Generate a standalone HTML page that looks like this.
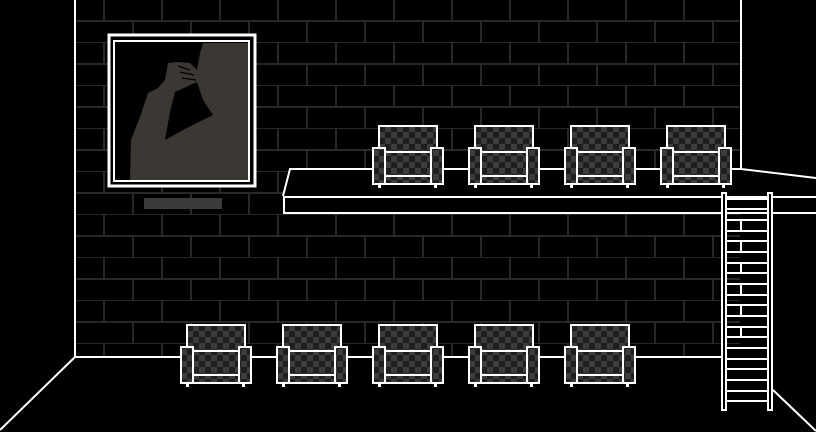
<!DOCTYPE html>
<html><head><style>html,body{margin:0;padding:0;background:#000;}svg{display:block}</style></head>
<body>
<svg width="816" height="432" viewBox="0 0 816 432" xmlns="http://www.w3.org/2000/svg" shape-rendering="crispEdges">
<defs>
<pattern id="brick" x="74" y="0" width="58" height="43" patternUnits="userSpaceOnUse">
<rect width="58" height="43" fill="#000"/>
<rect x="0" y="20" width="58" height="2" fill="#282828"/>
<rect x="0" y="42" width="58" height="1.5" fill="#282828"/>
<rect x="29" y="0" width="2" height="20" fill="#282828"/>
<rect x="0" y="22" width="2" height="20" fill="#282828"/>
</pattern>
<pattern id="chk" x="0" y="0" width="12" height="12" patternUnits="userSpaceOnUse">
<rect width="12" height="12" fill="#1e1e1e"/>
<rect width="6" height="6" fill="#3c3c3c"/>
<rect x="6" y="6" width="6" height="6" fill="#3c3c3c"/>
</pattern>
<g id="chair">
<rect x="6" y="0" width="58" height="26" fill="url(#chk)" stroke="#fff" stroke-width="2"/>
<rect x="12" y="26" width="46" height="32" fill="url(#chk)" stroke="#fff" stroke-width="2"/>
<line x1="12" y1="50" x2="58" y2="50" stroke="#fff" stroke-width="2"/>
<rect x="0" y="22" width="12" height="36" fill="url(#chk)" stroke="#fff" stroke-width="2"/>
<rect x="58" y="22" width="12" height="36" fill="url(#chk)" stroke="#fff" stroke-width="2"/>
<rect x="5" y="58" width="3" height="4" fill="#fff"/>
<rect x="61" y="58" width="3" height="4" fill="#fff"/>
</g>
</defs>
<rect width="816" height="432" fill="#000"/>
<rect x="74" y="0" width="666" height="356" fill="url(#brick)"/>
<line x1="75" y1="0" x2="75" y2="357" stroke="#fff" stroke-width="2"/>
<line x1="741" y1="0" x2="741" y2="168" stroke="#fff" stroke-width="2"/>
<line x1="74" y1="357" x2="722" y2="357" stroke="#fff" stroke-width="2"/>
<line x1="75" y1="357" x2="0" y2="430" stroke="#fff" stroke-width="2" shape-rendering="auto"/>
<line x1="773" y1="390" x2="816" y2="431" stroke="#fff" stroke-width="2" shape-rendering="auto"/>
<rect x="109" y="35" width="146" height="151" fill="#000" stroke="#fff" stroke-width="3"/>
<rect x="114" y="41" width="135" height="140" fill="#000" stroke="#fff" stroke-width="2"/>
<polygon shape-rendering="auto" fill="#3b3833" points="203,43 248,43 248,180 130,180 131,140 140,117 148,93 158,88 165,80 168,63 177,62 190,63 197,70 200,53"/>
<polygon shape-rendering="auto" fill="#000" points="175,92 197,82 203,100 213,115 187,128 165,140 170,112"/>
<g stroke="#000" stroke-width="1.2" shape-rendering="auto"><line x1="178" y1="66" x2="190" y2="70"/><line x1="180" y1="72" x2="194" y2="75"/><line x1="182" y1="78" x2="196" y2="80"/></g>
<rect x="144" y="198" width="78" height="11" fill="#3a3a3a"/>
<polygon points="290,169 741,169 816,178 816,196 283,196" fill="#000"/>
<polyline points="283,196 290,169 741,169 816,178" fill="none" stroke="#fff" stroke-width="2" shape-rendering="auto"/>
<rect x="283" y="196" width="533" height="16" fill="#000"/>
<line x1="283" y1="197" x2="816" y2="197" stroke="#fff" stroke-width="2"/>
<line x1="283" y1="213" x2="816" y2="213" stroke="#fff" stroke-width="2"/>
<line x1="284" y1="196" x2="284" y2="213" stroke="#fff" stroke-width="2"/>
<rect x="774" y="214" width="42" height="150" fill="#000"/>
<use href="#chair" x="373" y="126"/>
<use href="#chair" x="469" y="126"/>
<use href="#chair" x="565" y="126"/>
<use href="#chair" x="661" y="126"/>
<use href="#chair" x="181" y="325"/>
<use href="#chair" x="277" y="325"/>
<use href="#chair" x="373" y="325"/>
<use href="#chair" x="469" y="325"/>
<use href="#chair" x="565" y="325"/>
<rect x="721" y="192" width="6" height="219" fill="#fff"/>
<rect x="723" y="194" width="2" height="215" fill="#000"/>
<rect x="767" y="192" width="6" height="219" fill="#fff"/>
<rect x="769" y="194" width="2" height="215" fill="#000"/>
<g fill="#fff">
<rect x="727" y="198" width="40" height="2"/><rect x="727" y="208" width="40" height="2"/><rect x="727" y="219" width="40" height="2"/><rect x="727" y="230" width="40" height="2"/><rect x="727" y="240" width="40" height="2"/><rect x="727" y="251" width="40" height="2"/><rect x="727" y="262" width="40" height="2"/><rect x="727" y="272" width="40" height="2"/><rect x="727" y="283" width="40" height="2"/><rect x="727" y="294" width="40" height="2"/><rect x="727" y="304" width="40" height="2"/><rect x="727" y="315" width="40" height="2"/><rect x="727" y="326" width="40" height="2"/><rect x="727" y="336" width="40" height="2"/><rect x="727" y="347" width="40" height="2"/><rect x="727" y="358" width="40" height="2"/><rect x="727" y="368" width="40" height="2"/><rect x="727" y="379" width="40" height="2"/><rect x="727" y="390" width="40" height="2"/><rect x="727" y="400" width="40" height="2"/>
<rect x="740" y="219" width="2" height="11"/><rect x="740" y="240" width="2" height="11"/><rect x="740" y="262" width="2" height="10"/><rect x="740" y="283" width="2" height="11"/><rect x="740" y="304" width="2" height="11"/><rect x="740" y="326" width="2" height="10"/>
</g>
</svg>
</body></html>
